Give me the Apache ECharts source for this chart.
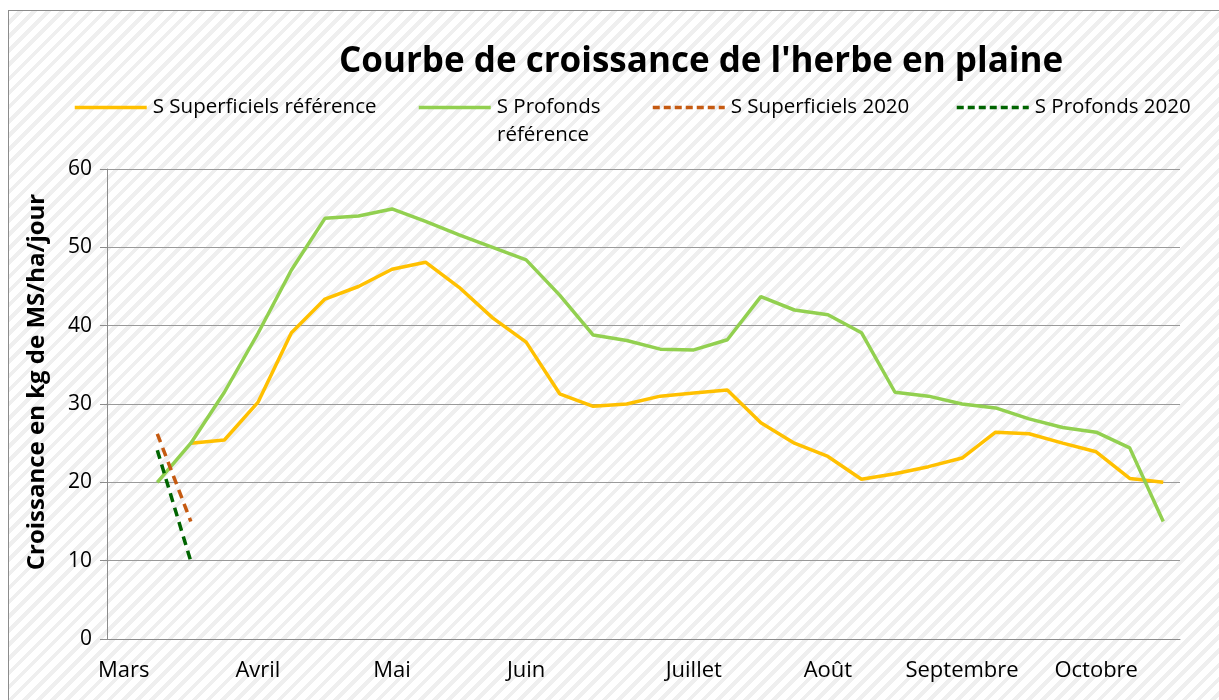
<!DOCTYPE html>
<html>
<head>
<meta charset="utf-8">
<title>Courbe de croissance de l'herbe en plaine</title>
<script src="https://cdn.jsdelivr.net/npm/echarts@6/dist/echarts.min.js"></script>
<style>
  html, body { margin: 0; padding: 0; background: #fff; }
  #frame {
    position: absolute; left: 8px; top: 10px; width: 1230px; height: 710px;
    border-left: 1px solid #8c8c8c; border-top: 1px solid #8c8c8c;
    background: repeating-linear-gradient(135deg, #ffffff 0px, #ffffff 6px, #efefef 6px, #efefef 10px);
  }
  #chart { position: absolute; left: 0; top: 0; width: 1219px; height: 700px; }
</style>
</head>
<body>
<div id="frame"></div>
<div id="chart"></div>
<script>
// weekly points, Mars -> Octobre
const weeks = [
  'Mars', '', '', '', 'Avril', '', '', '', 'Mai', '', '', '', 'Juin', '', '', '', '',
  'Juillet', '', '', '', 'Août', '', '', '', 'Septembre', '', '', '', 'Octobre', '', ''
]
const superficielsRef = [
  null, null, 25, 25.4, 30.2, 39.1, 43.4, 45, 47.2, 48.1, 44.9, 41, 37.9, 31.3, 29.7, 30,
  31, 31.4, 31.8, 27.6, 25, 23.3, 20.4, 21.1, 22, 23.1, 26.4, 26.2, 25, 23.9, 20.5, 20
]
const profondsRef = [
  null, 20, 25, 31.5, 39, 47.1, 53.7, 54, 54.9, 53.3, 51.6, 50, 48.4, 43.9, 38.8, 38.1,
  37, 36.9, 38.2, 43.7, 42, 41.4, 39.1, 31.5, 31, 30, 29.5, 28.1, 27, 26.4, 24.4, 15
]
const superficiels2020 = [null, 26.2, 15]
const profonds2020 = [null, 24.1, 9.9]
const yTicks = [0, 60, 10]   // min, max, interval

const font = '"Open Sans", sans-serif'
const chart = echarts.init(document.getElementById('chart'))

const legendAt = (name, left, dashed) => ({
  data: [name],
  left: left,
  top: 92,
  itemWidth: 72,
  itemHeight: 14,
  itemGap: 0,
  itemStyle: { opacity: 0 },
  lineStyle: { width: 3.5, type: dashed ? [7, 4] : 'solid' },
  textStyle: { fontFamily: font, fontSize: 20.5, color: '#000', padding: [0, 0, 0, 1] },
  formatter: n => n === 'S Profonds référence' ? 'S Profonds' : n
})

chart.setOption({
  animation: false,
  backgroundColor: 'transparent',
  title: {
    text: "Courbe de croissance de l'herbe en plaine",
    left: 334,
    top: 40,
    textStyle: { fontFamily: font, fontSize: 35, fontWeight: 'bold', color: '#000' }
  },
  legend: [
    legendAt('S Superficiels référence', 68),
    legendAt('S Profonds référence', 412),
    legendAt('S Superficiels 2020', 646, true),
    legendAt('S Profonds 2020', 950, true)
  ],
  graphic: [{
    type: 'text',
    left: 497,
    top: 125,
    style: { text: 'référence', font: '20.5px "Open Sans", sans-serif', fill: '#000' }
  }, {
    type: 'text',
    x: 37,
    y: 382,
    rotation: Math.PI / 2,
    style: {
      text: 'Croissance en kg de MS/ha/jour',
      font: 'bold 24px "Open Sans", sans-serif',
      fill: '#000',
      align: 'center',
      verticalAlign: 'middle'
    }
  }],
  grid: { left: 107, right: 39, top: 169, bottom: 61 },
  xAxis: {
    type: 'category',
    data: weeks,
    boundaryGap: true,
    axisLine: { lineStyle: { color: '#8c8c8c', width: 1 } },
    axisTick: { interval: 0, length: 7, lineStyle: { color: '#8c8c8c' } },
    axisLabel: { interval: 0, margin: 21, fontFamily: font, fontSize: 22, color: '#000' },
    splitLine: { show: false }
  },
  yAxis: {
    type: 'value',
    min: yTicks[0],
    max: yTicks[1],
    interval: yTicks[2],
    axisLine: { show: true, lineStyle: { color: '#8c8c8c', width: 1 } },
    axisTick: { show: true, length: 7, lineStyle: { color: '#8c8c8c' } },
    axisLabel: { margin: 15, fontFamily: font, fontSize: 21, color: '#000' },
    splitLine: { lineStyle: { color: '#9a9a9a', width: 1 } }
  },
  series: [{
    name: 'S Superficiels référence',
    type: 'line',
    data: superficielsRef,
    symbol: 'none',
    lineStyle: { color: '#FFC000', width: 3.5 },
    itemStyle: { color: '#FFC000' }
  }, {
    name: 'S Profonds référence',
    type: 'line',
    data: profondsRef,
    symbol: 'none',
    lineStyle: { color: '#92D050', width: 3.5 },
    itemStyle: { color: '#92D050' }
  }, {
    name: 'S Superficiels 2020',
    type: 'line',
    data: superficiels2020,
    symbol: 'none',
    lineStyle: { color: '#C55A11', width: 3.5, type: [9, 6] },
    itemStyle: { color: '#C55A11' }
  }, {
    name: 'S Profonds 2020',
    type: 'line',
    data: profonds2020,
    symbol: 'none',
    lineStyle: { color: '#006400', width: 3.5, type: [9, 6] },
    itemStyle: { color: '#006400' }
  }]
})
</script>
</body>
</html>
